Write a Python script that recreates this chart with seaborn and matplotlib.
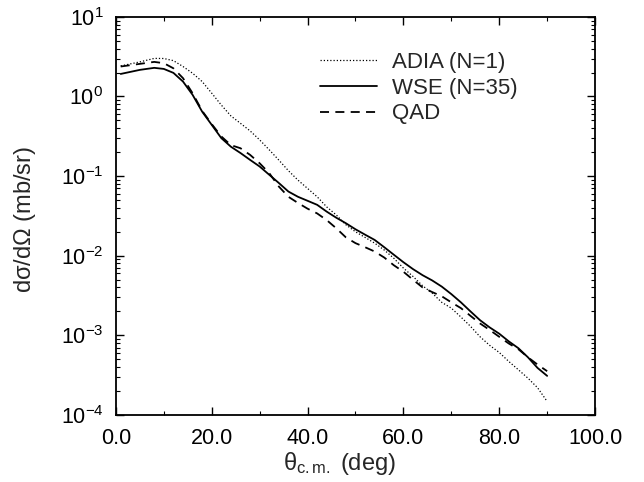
import numpy as np
import pandas as pd
import matplotlib
matplotlib.use("Agg")
import matplotlib.pyplot as plt
import seaborn as sns
from matplotlib.ticker import LogLocator, MultipleLocator, FixedLocator

# ---- data ----
theta = [1, 5, 8, 10, 12, 14, 16, 18, 20, 22, 24, 26, 28, 30, 32, 34, 36, 38, 40,
         42, 44, 46, 48, 50, 52, 54, 56, 58, 60, 62, 64, 66, 68, 70, 72, 74, 76,
         78, 80, 82, 84, 86, 88, 90]

adia = [2.42, 2.72, 3.01, 3.0, 2.82, 2.38, 1.96, 1.54, 1.10, 0.78, 0.57, 0.46,
        0.37, 0.285, 0.214, 0.159, 0.117, 0.089, 0.070, 0.055, 0.041, 0.0325,
        0.0245, 0.020, 0.017, 0.0144, 0.0118, 0.0093, 0.0070, 0.0055, 0.0042,
        0.0034, 0.0026, 0.0022, 0.0017, 0.0013, 0.00096, 0.00075, 0.00061,
        0.00047, 0.00037, 0.00029, 0.00022, 0.000148]

wse = [1.92, 2.16, 2.29, 2.22, 1.98, 1.54, 1.05, 0.645, 0.44, 0.30, 0.234, 0.195,
       0.16, 0.132, 0.104, 0.082, 0.064, 0.055, 0.049, 0.0436, 0.0358, 0.030,
       0.0256, 0.0215, 0.0184, 0.0158, 0.0128, 0.0103, 0.0083, 0.0068, 0.0057,
       0.0049, 0.0041, 0.0033, 0.0026, 0.0020, 0.00155, 0.00126, 0.00105,
       0.00084, 0.00069, 0.00053, 0.00039, 0.00031]

qad = [2.38, 2.57, 2.72, 2.62, 2.26, 1.70, 1.10, 0.66, 0.45, 0.315, 0.245, 0.224,
       0.185, 0.145, 0.109, 0.074, 0.055, 0.046, 0.039, 0.034, 0.028, 0.0221,
       0.017, 0.0144, 0.0128, 0.0113, 0.0095, 0.0076, 0.0063, 0.0050, 0.0040,
       0.0035, 0.0031, 0.0026, 0.0022, 0.00176, 0.00141, 0.00117, 0.00096,
       0.00079, 0.00067, 0.00053, 0.00043, 0.000355]

labels = ["ADIA (N=1)", "WSE (N=35)", "QAD"]
x_ticks = [0, 20, 40, 60, 80, 100]
x_tick_labels = ["0.0", "20.0", "40.0", "60.0", "80.0", "100.0"]

df = pd.DataFrame({
    "theta": theta * 3,
    "value": adia + wse + qad,
    "series": [labels[0]] * len(theta) + [labels[1]] * len(theta) + [labels[2]] * len(theta),
})

sns.set_theme(style="ticks")
plt.rcParams["font.family"] = ["Liberation Sans", "DejaVu Sans"]
plt.rcParams["mathtext.fontset"] = "custom"
plt.rcParams["mathtext.rm"] = "Liberation Sans"
plt.rcParams["mathtext.it"] = "Liberation Sans"

fig = plt.figure(figsize=(6.44, 4.82), dpi=100)
ax = fig.add_axes([0.180, 0.139, 0.744, 0.826])

styles = {labels[0]: (0, (1, 1.6)), labels[1]: "-", labels[2]: (0, (5, 3.5))}
widths = {labels[0]: 0.9, labels[1]: 1.3, labels[2]: 1.3}
for lab in labels:
    sns.lineplot(data=df[df["series"] == lab], x="theta", y="value", ax=ax,
                 color="black", linestyle=styles[lab], linewidth=widths[lab],
                 label=lab, estimator=None, sort=True)

ax.set_yscale("log")
ax.set_xlim(0, 100)
ax.set_ylim(1e-4, 1e1)
ax.xaxis.set_major_locator(FixedLocator(x_ticks))
ax.set_xticklabels(x_tick_labels)
ax.xaxis.set_minor_locator(MultipleLocator(10))
ax.yaxis.set_major_locator(LogLocator(base=10, numticks=10))
ax.yaxis.set_minor_locator(LogLocator(base=10, subs=np.arange(2, 10), numticks=20))

ax.tick_params(which="both", direction="in", top=True, right=True, colors="black")
ax.tick_params(which="major", length=6, width=1.0, labelsize=15.5)
ax.tick_params(axis="x", which="major", pad=9)
ax.tick_params(axis="y", which="major", pad=9)
ax.tick_params(which="minor", length=3, width=0.8)
for s in ax.spines.values():
    s.set_linewidth(1.3)
    s.set_color("black")

ax.set_xlabel(r"$\theta_{\rm c.m.}$ (deg)", fontsize=17)
ax.set_ylabel(r"d$\sigma$/d$\Omega$ (mb/sr)", fontsize=17)
ax.xaxis.set_label_coords(0.466, -0.088)
ax.yaxis.set_label_coords(-0.162, 0.49)

leg = ax.legend(loc="upper left", bbox_to_anchor=(0.407, 0.935), frameon=False,
                fontsize=16, handlelength=2.57, handletextpad=0.68, labelspacing=0.22,
                borderaxespad=0)

fig.savefig("out.png", dpi=100)
